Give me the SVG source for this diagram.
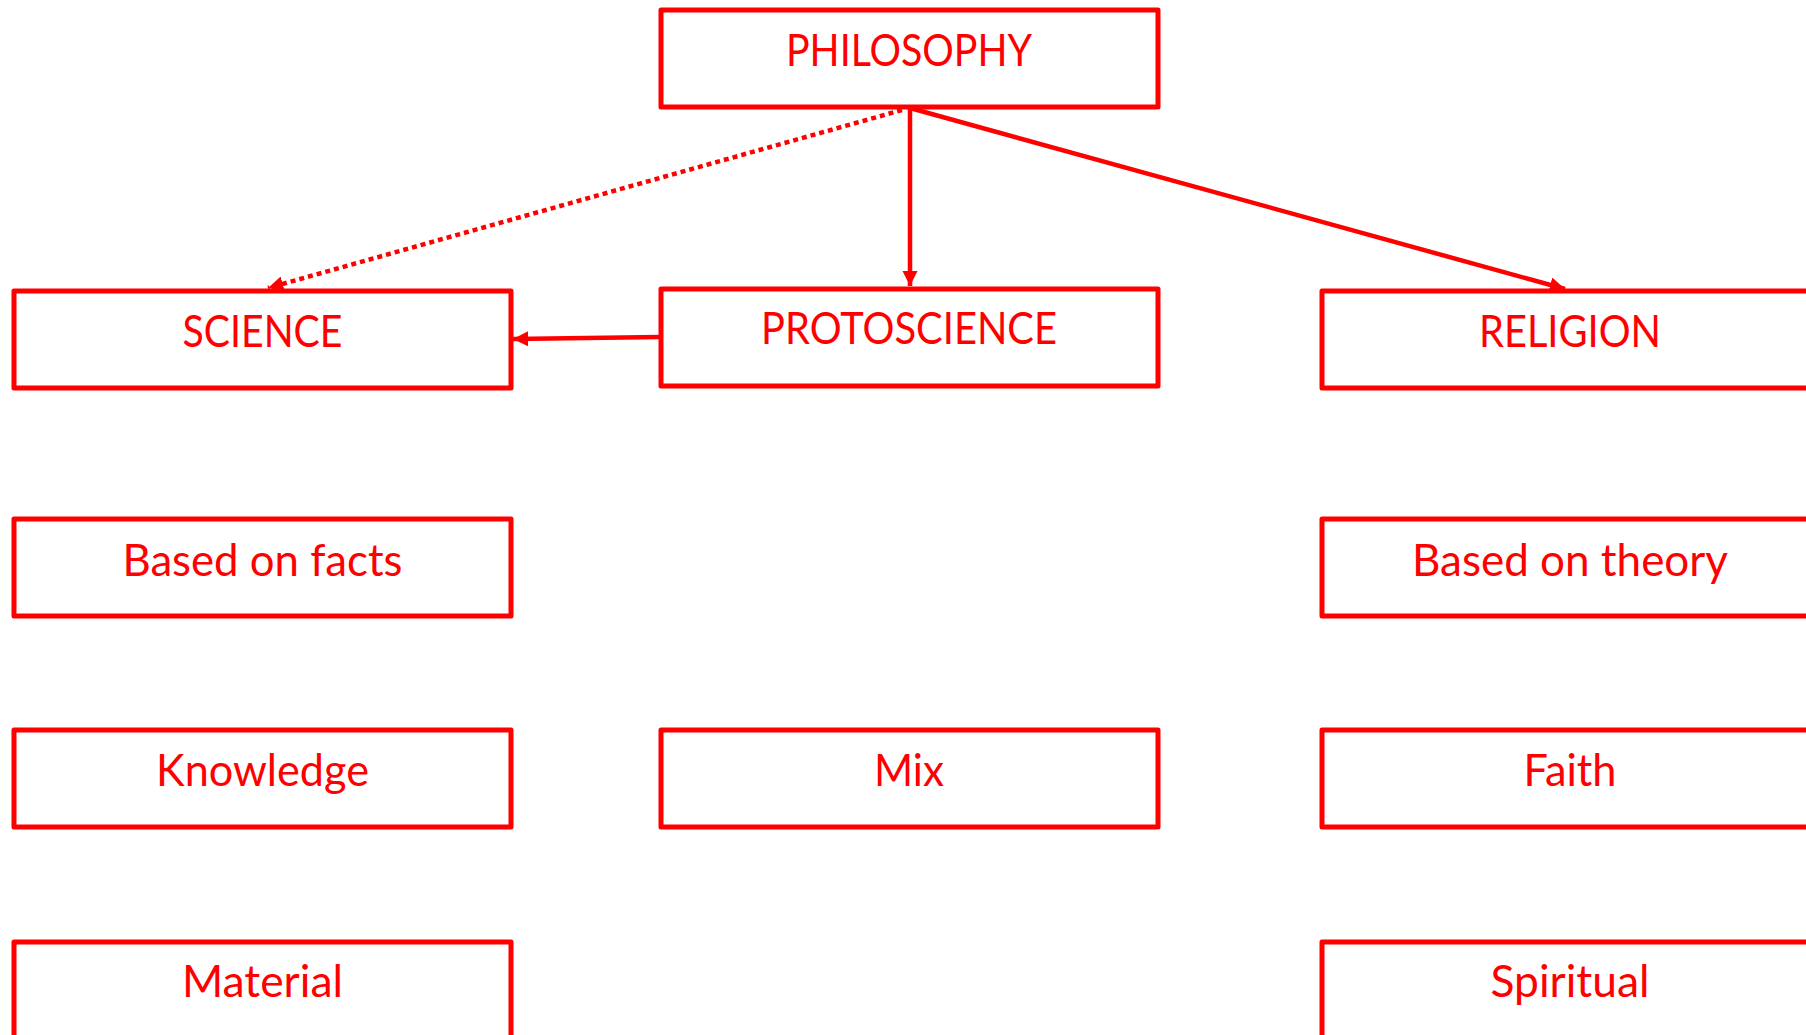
<svg xmlns="http://www.w3.org/2000/svg" width="1806" height="1035" viewBox="0 0 1806 1035">
<style>
.box{fill:#fff;stroke:#ff0000;stroke-width:5;stroke-linejoin:round}
.lbl{font-family:Lato,"Open Sans",sans-serif;font-size:45px;fill:#ff0000;text-anchor:middle}
.con{stroke:#ff0000;stroke-width:4.5;fill:none}
</style>
<defs>
<marker id="ah" viewBox="0 0 10 10" refX="10" refY="5" markerWidth="3.4" markerHeight="3.4" orient="auto" markerUnits="strokeWidth">
<path d="M0,0 L10,5 L0,10 z" fill="#ff0000"/>
</marker>
</defs>
<rect width="1806" height="1035" fill="#fff"/>
<g id="connectors">
<line class="con" x1="902" y1="110" x2="268" y2="288" stroke-dasharray="5,4" marker-end="url(#ah)"/>
<line class="con" x1="910" y1="108" x2="910" y2="286" marker-end="url(#ah)"/>
<line class="con" x1="910" y1="108" x2="1565" y2="289" marker-end="url(#ah)"/>
<line class="con" x1="660" y1="337" x2="513" y2="339" marker-end="url(#ah)"/>
</g>
<g id="philosophy"><rect class="box" x="661" y="10" width="497" height="97"/><text class="lbl" x="909" y="66" textLength="246" lengthAdjust="spacingAndGlyphs">PHILOSOPHY</text></g>
<g id="science"><rect class="box" x="14" y="291" width="497" height="97"/><text class="lbl" x="262.5" y="347" textLength="160" lengthAdjust="spacingAndGlyphs">SCIENCE</text></g>
<g id="protoscience"><rect class="box" x="661" y="289" width="497" height="97"/><text class="lbl" x="909" y="344" textLength="296" lengthAdjust="spacingAndGlyphs">PROTOSCIENCE</text></g>
<g id="religion"><rect class="box" x="1322" y="291" width="497" height="97"/><text class="lbl" x="1570" y="347" textLength="182" lengthAdjust="spacingAndGlyphs">RELIGION</text></g>
<g id="based-on-facts"><rect class="box" x="14" y="519" width="497" height="97"/><text class="lbl" x="262.5" y="576" textLength="280" lengthAdjust="spacingAndGlyphs">Based on facts</text></g>
<g id="based-on-theory"><rect class="box" x="1322" y="519" width="497" height="97"/><text class="lbl" x="1570" y="576" textLength="316" lengthAdjust="spacingAndGlyphs">Based on theory</text></g>
<g id="knowledge"><rect class="box" x="14" y="730" width="497" height="97"/><text class="lbl" x="262.5" y="786" textLength="213" lengthAdjust="spacingAndGlyphs">Knowledge</text></g>
<g id="mix"><rect class="box" x="661" y="730" width="497" height="97"/><text class="lbl" x="909" y="786" textLength="70" lengthAdjust="spacingAndGlyphs">Mix</text></g>
<g id="faith"><rect class="box" x="1322" y="730" width="497" height="97"/><text class="lbl" x="1570" y="786" textLength="93" lengthAdjust="spacingAndGlyphs">Faith</text></g>
<g id="material"><rect class="box" x="14" y="942" width="497" height="97"/><text class="lbl" x="262.5" y="997" textLength="161" lengthAdjust="spacingAndGlyphs">Material</text></g>
<g id="spiritual"><rect class="box" x="1322" y="942" width="497" height="97"/><text class="lbl" x="1570" y="997" textLength="159" lengthAdjust="spacingAndGlyphs">Spiritual</text></g>
</svg>
